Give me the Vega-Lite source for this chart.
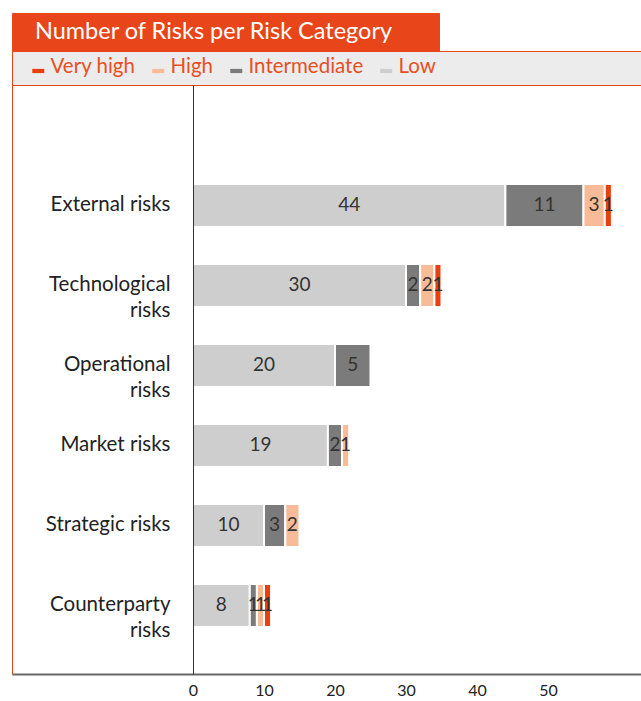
{
  "$schema": "https://vega.github.io/schema/vega-lite/v6.json",
  "padding": {"left": 11, "top": 12, "right": 0, "bottom": 0},
  "background": "white",
  "bounds": "flush",
  "spacing": 0,
  "config": {"font": "Lato", "view": {"stroke": null}, "concat": {"spacing": 0}},
  "resolve": {"scale": {"color": "independent"}, "legend": {"color": "independent"}},
  "vconcat": [
    {
      "width": 427,
      "height": 38,
      "view": {"fill": "#e8461a", "stroke": "#e8461a"},
      "data": {"values": [{"title": "Number of Risks per Risk Category"}]},
      "mark": {"type": "text", "color": "white", "fontSize": 23.5, "font": "Lato", "dx": -12},
      "encoding": {"text": {"field": "title", "type": "nominal"}}
    },
    {
      "width": 629,
      "height": 34,
      "view": {"fill": "#ececec", "stroke": "#e8461a"},
      "data": {"values": [{"note": ""}]},
      "mark": {"type": "text"},
      "encoding": {"text": {"field": "note", "type": "nominal"}}
    },
    {
      "width": 629,
      "height": 589,
      "view": {"stroke": "#e8461a", "strokeWidth": 1},
      "data": {
        "values": [
          {"category": "External risks", "level": "Low", "rank": 1, "count": 44},
          {"category": "External risks", "level": "Intermediate", "rank": 2, "count": 11},
          {"category": "External risks", "level": "High", "rank": 3, "count": 3},
          {"category": "External risks", "level": "Very high", "rank": 4, "count": 1},
          {"category": "Technological risks", "level": "Low", "rank": 1, "count": 30},
          {"category": "Technological risks", "level": "Intermediate", "rank": 2, "count": 2},
          {"category": "Technological risks", "level": "High", "rank": 3, "count": 2},
          {"category": "Technological risks", "level": "Very high", "rank": 4, "count": 1},
          {"category": "Operational risks", "level": "Low", "rank": 1, "count": 20},
          {"category": "Operational risks", "level": "Intermediate", "rank": 2, "count": 5},
          {"category": "Market risks", "level": "Low", "rank": 1, "count": 19},
          {"category": "Market risks", "level": "Intermediate", "rank": 2, "count": 2},
          {"category": "Market risks", "level": "High", "rank": 3, "count": 1},
          {"category": "Strategic risks", "level": "Low", "rank": 1, "count": 10},
          {"category": "Strategic risks", "level": "Intermediate", "rank": 2, "count": 3},
          {"category": "Strategic risks", "level": "High", "rank": 3, "count": 2},
          {"category": "Counterparty risks", "level": "Low", "rank": 1, "count": 8},
          {"category": "Counterparty risks", "level": "Intermediate", "rank": 2, "count": 1},
          {"category": "Counterparty risks", "level": "High", "rank": 3, "count": 1},
          {"category": "Counterparty risks", "level": "Very high", "rank": 4, "count": 1}
        ]
      },
      "transform": [
        {"stack": "count", "groupby": ["category"], "sort": [{"field": "rank", "order": "ascending"}], "as": ["x0", "x1"]},
        {"calculate": "(datum.x0 + datum.x1) / 2", "as": "xmid"}
      ],
      "encoding": {
        "y": {
          "field": "category",
          "type": "nominal",
          "sort": ["External risks", "Technological risks", "Operational risks", "Market risks", "Strategic risks", "Counterparty risks"],
          "scale": {"paddingInner": 0.4625, "paddingOuter": 0.9125, "align": 0.678},
          "axis": {
            "orient": "left",
            "offset": -181,
            "title": null,
            "ticks": false,
            "domainColor": "#333333",
            "domainWidth": 1,
            "labelFontSize": 20.5,
            "labelColor": "#222222",
            "labelPadding": 23,
            "labelFont": "Lato",
            "labelLineHeight": 26,
            "labelExpr": "length(datum.label) > 15 ? split(datum.label, ' ') : datum.label",
            "zindex": 1
          }
        }
      },
      "layer": [
        {
          "mark": {"type": "bar", "stroke": "white", "strokeWidth": 2},
          "encoding": {
            "x": {
              "field": "x0",
              "type": "quantitative",
              "scale": {"domain": [-25.49, 63.1], "nice": false, "zero": false},
              "axis": {
                "values": [0, 10, 20, 30, 40, 50],
                "title": null,
                "ticks": false,
                "grid": false,
                "domainColor": "#666666",
                "domainWidth": 2,
                "labelFontSize": 16,
                "labelColor": "#222222",
                "labelPadding": 8,
                "labelFont": "Lato",
                "zindex": 1
              }
            },
            "x2": {"field": "x1"},
            "color": {
              "field": "level",
              "type": "nominal",
              "scale": {
                "domain": ["Very high", "High", "Intermediate", "Low"],
                "range": ["#e8400f", "#f7bb98", "#7b7b7b", "#cecece"]
              },
              "legend": {
                "orient": "none",
                "legendX": 16,
                "legendY": -28,
                "direction": "horizontal",
                "title": null,
                "symbolType": "M-1,0.25H1V0.95H-1Z",
                "symbolSize": 144,
                "symbolStrokeWidth": 0,
                "labelFontSize": 20.5,
                "labelColor": "#e8501f",
                "labelFont": "Lato",
                "columnPadding": 12,
                "labelOffset": 2,
                "padding": 0
              }
            }
          }
        },
        {
          "mark": {"type": "text", "fontSize": 19, "color": "#333333", "font": "Lato"},
          "encoding": {
            "x": {"field": "xmid", "type": "quantitative"},
            "text": {"field": "count", "type": "quantitative"}
          }
        }
      ]
    }
  ]
}
